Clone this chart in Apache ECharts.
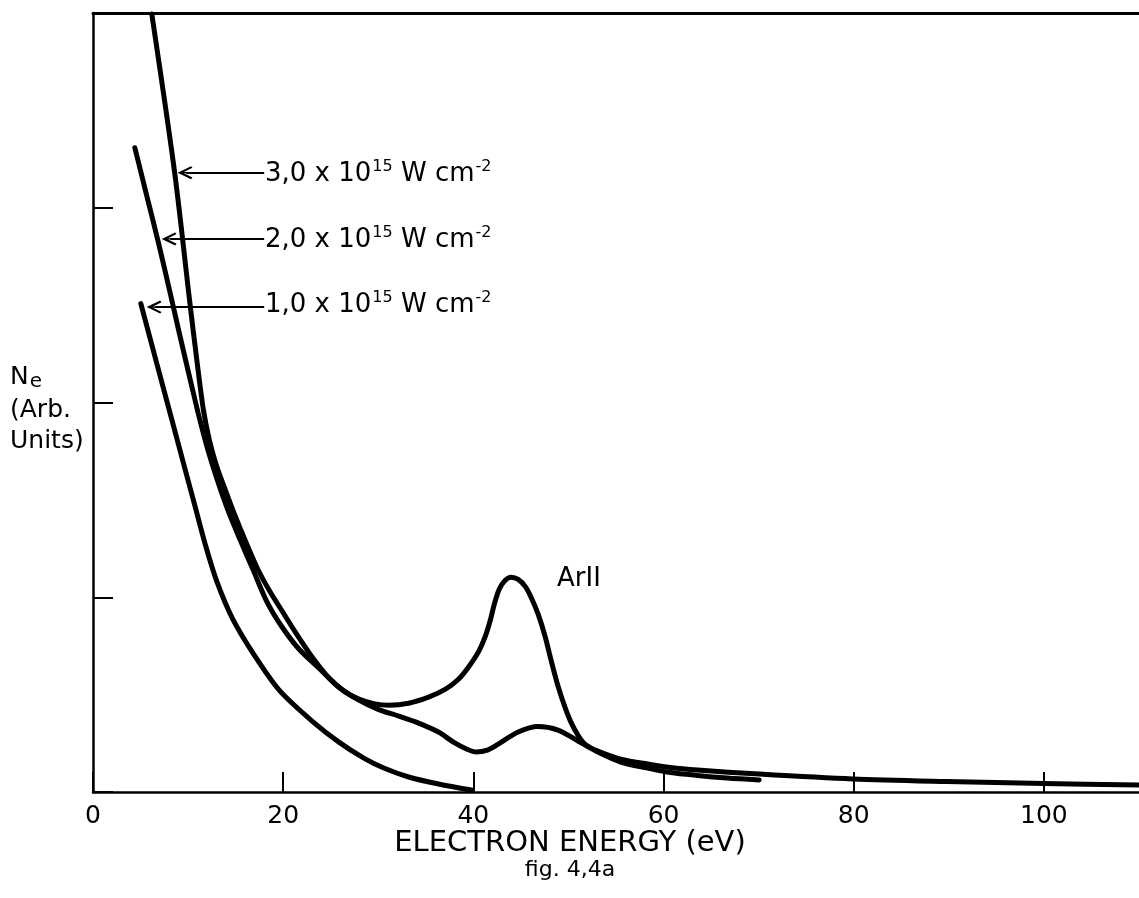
<!DOCTYPE html>
<html><head><meta charset="utf-8">
<script src="https://cdn.jsdelivr.net/npm/echarts@6/dist/echarts.min.js"></script>
<style>html,body{margin:0;padding:0;background:#fff}#c{width:1139px;height:898px}</style>
</head><body><div id="c"></div>
<script>
// ---- data (x: electron energy in eV, y: Ne in arbitrary units) ----
const xTicks = [0, 20, 40, 60, 80, 100];

// 3,0 x 10^15 W cm^-2
const e3 = [6.18, 8.59, 10.16, 10.99, 11.62, 12.25, 12.98, 13.93, 14.97, 16.13, 17.28, 18.53, 19.90, 21.36, 23.14, 24.82, 26.39, 27.96, 29.53, 31.10, 33.19, 35.29, 37.07, 38.43, 39.48, 40.52, 41.26, 41.78, 42.20, 42.72, 43.35, 43.98, 44.71, 45.45, 46.07, 46.81, 47.54, 48.17, 48.90, 49.63, 50.26, 51.00, 51.73, 53.09, 55.50, 58.32, 60.73, 63.56, 70.05, 79.90, 89.74, 100.0, 110.0];
const n3 = [3.995, 3.179, 2.523, 2.190, 1.959, 1.805, 1.677, 1.549, 1.415, 1.277, 1.149, 1.036, 0.928, 0.815, 0.687, 0.585, 0.518, 0.477, 0.454, 0.446, 0.456, 0.487, 0.528, 0.579, 0.641, 0.718, 0.800, 0.882, 0.964, 1.041, 1.087, 1.103, 1.092, 1.056, 1.000, 0.913, 0.800, 0.677, 0.544, 0.436, 0.359, 0.292, 0.246, 0.210, 0.169, 0.144, 0.126, 0.113, 0.092, 0.067, 0.054, 0.044, 0.036];

// 2,0 x 10^15 W cm^-2
const e2 = [4.40, 5.65, 6.91, 8.06, 9.21, 10.37, 11.20, 12.04, 13.09, 14.24, 15.50, 16.86, 18.32, 19.90, 21.68, 23.77, 25.86, 27.96, 30.05, 32.15, 34.24, 36.34, 37.91, 39.27, 40.31, 41.47, 42.62, 44.71, 46.81, 48.90, 51.00, 53.09, 55.50, 58.32, 60.73, 63.56, 66.70, 70.05];
const n2 = [3.308, 3.062, 2.815, 2.574, 2.328, 2.087, 1.918, 1.764, 1.600, 1.441, 1.292, 1.138, 0.974, 0.846, 0.733, 0.636, 0.538, 0.472, 0.423, 0.390, 0.354, 0.308, 0.256, 0.221, 0.205, 0.215, 0.246, 0.308, 0.336, 0.318, 0.262, 0.205, 0.154, 0.123, 0.100, 0.085, 0.072, 0.062];

// 1,0 x 10^15 W cm^-2
const e1 = [5.03, 6.18, 7.33, 8.48, 9.63, 10.79, 11.83, 12.98, 14.66, 16.96, 19.58, 23.04, 25.86, 28.48, 30.58, 33.19, 36.34, 39.79];
const n1 = [2.508, 2.297, 2.087, 1.877, 1.667, 1.456, 1.267, 1.087, 0.892, 0.703, 0.523, 0.364, 0.256, 0.174, 0.123, 0.077, 0.041, 0.010];

// annotation arrows: labels, level, arrow tip, label start
const arrowLabels = ['3,0', '2,0', '1,0'];
const arrowLevel = [3.18, 2.84, 2.49];
const arrowTip = [8.9, 7.23, 5.65];
const arrowStart = 18.0;

const pairs = (xs, ys) => xs.map((x, i) => [x, ys[i]]);

const chart = echarts.init(document.getElementById('c'), null, {renderer: 'canvas'});
const FONT = 'DejaVu Sans';
const arrowPath = 'path://M10,0 L20,19 L17.5,21 L11,9 L11,24 L9,24 L9,9 L2.5,21 L0,19 Z';
const pxPerUnit = 1050 / 110;

const curveStyle = {color: '#000', width: 5, cap: 'round', join: 'round'};

const markLineData = arrowLevel.map((y, i) => [
  {coord: [arrowStart, y], symbol: 'none'},
  {coord: [arrowTip[i] + 8.5 / pxPerUnit, y], symbol: arrowPath, symbolSize: [13, 17]}
]);

const supRich = {
  n: {fontFamily: FONT, fontSize: 26, color: '#000'},
  s: {fontFamily: FONT, fontSize: 16, color: '#000', padding: [0, 0, 14, 1]}
};

const lineSeries = (name, xs, ys, extra) => Object.assign({
  type: 'line', name, data: pairs(xs, ys), showSymbol: false, smooth: 0.3,
  lineStyle: curveStyle, clip: true, silent: true
}, extra || {});

chart.setOption({
  animation: false,
  backgroundColor: '#fff',
  grid: {left: 93, top: 13, width: 1050, bottom: 106, show: false},
  xAxis: [{
    type: 'value', min: 0, max: 110, interval: 20, position: 'bottom',
    axisLine: {show: true, onZero: false, lineStyle: {color: '#000', width: 2.5}},
    axisTick: {show: true, inside: true, length: 20, lineStyle: {color: '#000', width: 2}},
    axisLabel: {show: true, color: '#000', fontFamily: FONT, fontSize: 25, margin: 12, showMaxLabel: false,
      formatter: v => (xTicks.indexOf(v) >= 0 ? String(v) : '')},
    splitLine: {show: false}
  }, {
    type: 'value', min: 0, max: 110, position: 'top',
    axisLine: {show: true, onZero: false, lineStyle: {color: '#000', width: 3}},
    axisTick: {show: false}, axisLabel: {show: false}, splitLine: {show: false}
  }],
  yAxis: {
    type: 'value', min: 0, max: 4, interval: 1,
    axisLine: {show: true, onZero: false, lineStyle: {color: '#000', width: 2.5}},
    axisTick: {show: true, inside: true, length: 20, lineStyle: {color: '#000', width: 2}},
    axisLabel: {show: false}, splitLine: {show: false}
  },
  series: [
    lineSeries('3,0', e3, n3),
    lineSeries('2,0', e2, n2),
    lineSeries('1,0', e1, n1, {
      markLine: {silent: true, animation: false, label: {show: false}, symbol: ['none', 'none'],
        lineStyle: {color: '#000', width: 1.8, type: 'solid'}, emphasis: {disabled: true},
        data: markLineData}
    })
  ],
  graphic: [
    ...arrowLabels.map((lab, i) => ({
      type: 'text', x: 265, y: [172, 238, 303][i] + 2,
      style: {text: `{n|${lab} x 10}{s|15}{n| W cm}{s|-2}`, rich: supRich, fill: '#000', textVerticalAlign: 'middle'}
    })),
    {type: 'text', x: 557, y: 579, style: {text: 'ArII', fontFamily: FONT, fontSize: 26, fill: '#000', textVerticalAlign: 'middle'}},
    {type: 'text', x: 10, y: 362, style: {text: '{n|N}{b|e}', rich: {
      n: {fontFamily: FONT, fontSize: 25, color: '#000'},
      b: {fontFamily: FONT, fontSize: 20, color: '#000', padding: [10, 0, 0, 1]}}}},
    {type: 'text', x: 10, y: 398, style: {text: '(Arb.', fontFamily: FONT, fontSize: 25, fill: '#000'}},
    {type: 'text', x: 10, y: 429, style: {text: 'Units)', fontFamily: FONT, fontSize: 25, fill: '#000'}},
    {type: 'text', x: 570, y: 843, style: {text: 'ELECTRON ENERGY (eV)', fontFamily: FONT, fontSize: 29, fill: '#000', textAlign: 'center', textVerticalAlign: 'middle'}},
    {type: 'text', x: 570, y: 870, style: {text: 'fig. 4,4a', fontFamily: FONT, fontSize: 22, fill: '#000', textAlign: 'center', textVerticalAlign: 'middle'}}
  ]
});
</script></body></html>
